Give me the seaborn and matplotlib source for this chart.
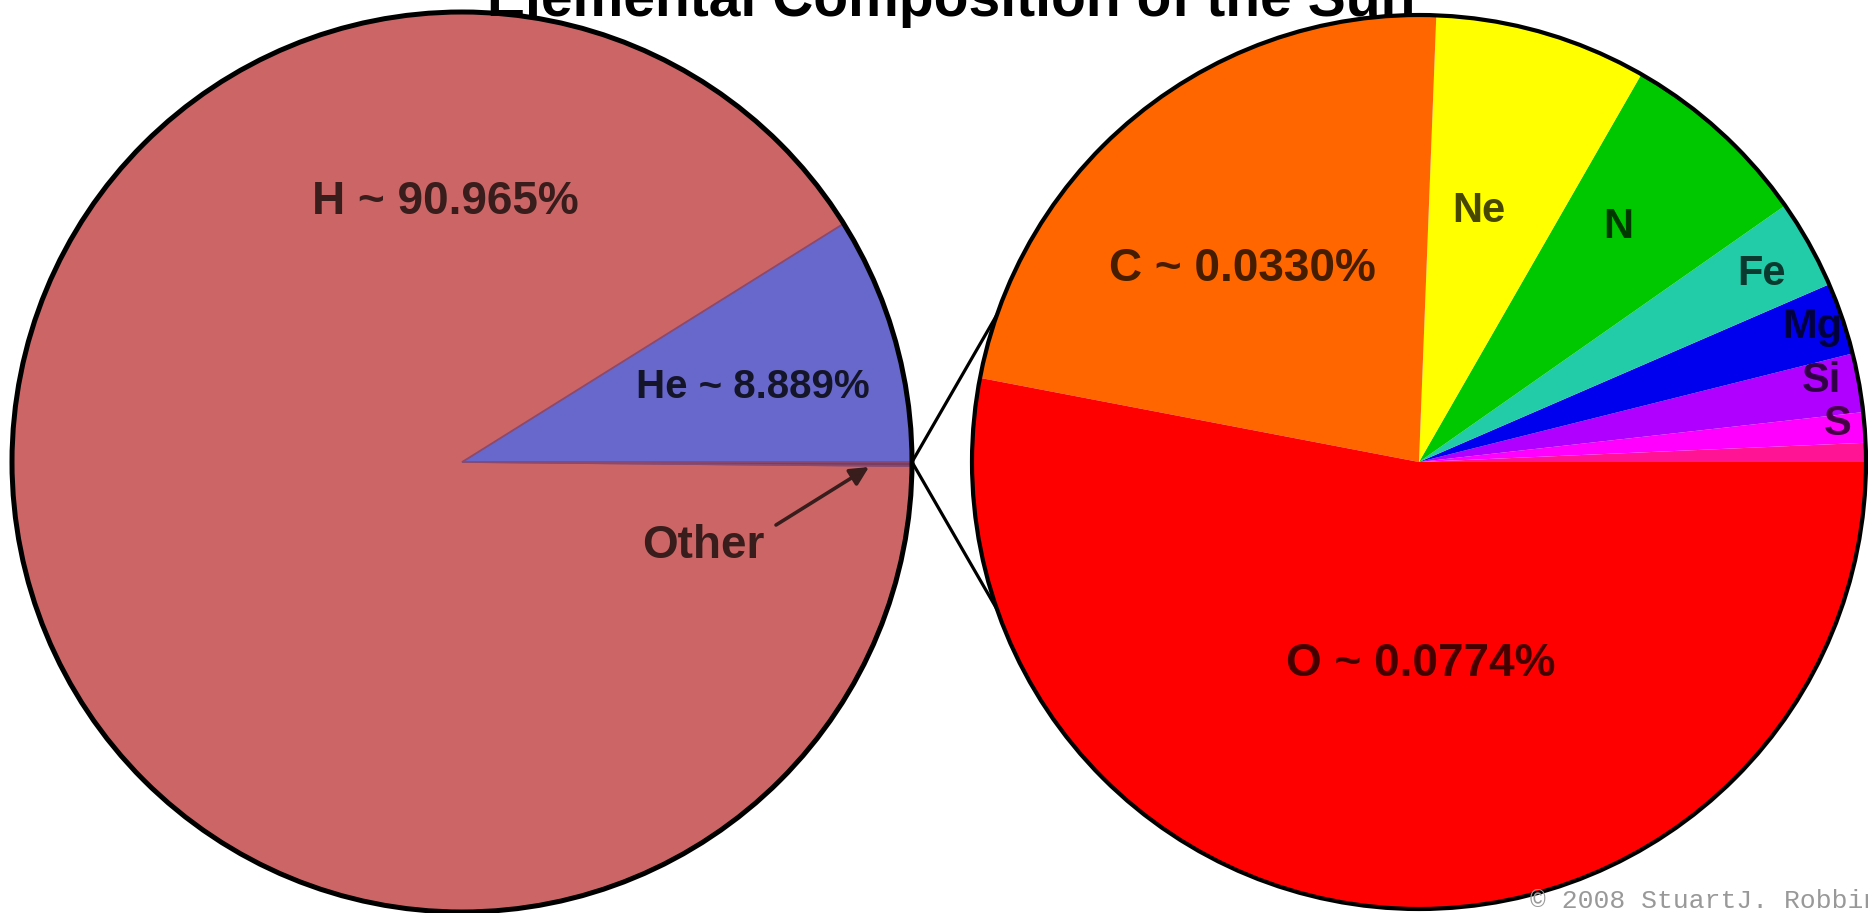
import matplotlib
matplotlib.use("Agg")
import matplotlib.pyplot as plt
from matplotlib.patches import Circle
import seaborn as sns

# Composition of the Sun, percent of all atoms
sun_elements = ["He", "H", "Other"]
sun_percent = [8.889, 90.965, 0.146]

# Breakdown of the "Other" share, percent of all atoms
trace_elements = ["rest", "S", "Si", "Mg", "Fe", "N", "Ne", "C", "O"]
trace_percent = [0.0010, 0.0016, 0.0031, 0.0038, 0.0047, 0.0102, 0.0112, 0.0330, 0.0774]

title_text = "Elemental Composition of the Sun"
credit_text = "\u00a9 2008 StuartJ. Robbins"

# ---- styling -------------------------------------------------------------
sun_colors = ["#6767cc", "#cc6666", "#7a3c60"]
trace_colors = ["#ff1493", "#ff00ff", "#b000ff", "#0000ee", "#22cca8",
                "#00c800", "#ffff00", "#ff6600", "#ff0000"]

sns.set_theme(style="white")
plt.rcParams["font.family"] = ["Liberation Sans", "DejaVu Sans"]

W, H, DPI = 1868, 913, 100
fig = plt.figure(figsize=(W / DPI, H / DPI), dpi=DPI)
ax = fig.add_axes([0, 0, 1, 1])

# pixel-style coordinates: y grows downward
left_c, left_r = (462, 462), 450
right_c, right_r = (1419, 462), 447


def darken(color, keep=0.28):
    r, g, b = matplotlib.colors.to_rgb(color)
    return (r * keep, g * keep, b * keep)


def label(x, y, text, size, color):
    # place text by the middle of its capital letters
    cap = 0.716 * size * DPI / 72
    ax.text(x, y + cap / 2, text, fontsize=size, fontweight="bold",
            color=color, ha="center", va="baseline", zorder=6)


# zoom lines from the "Other" sliver to the detail pie (hidden under it)
tip = (left_c[0] + left_r, left_c[1])
for dy in (-1, 1):
    ax.plot([tip[0], tip[0] + 150], [tip[1], tip[1] + dy * 260],
            color="black", lw=2.3, zorder=1, solid_capstyle="butt")

# main pie: counterclock=False because the y axis is flipped
ax.pie(sun_percent, colors=sun_colors, startangle=0, counterclock=False,
       center=left_c, radius=left_r,
       wedgeprops=dict(edgecolor="#8a4a70", linewidth=1.2, zorder=2))
ax.pie(trace_percent, colors=trace_colors, startangle=0, counterclock=False,
       center=right_c, radius=right_r,
       wedgeprops=dict(linewidth=0, antialiased=True, zorder=2))

ax.add_patch(Circle(left_c, left_r, fill=False, edgecolor="black", lw=3.6, zorder=4))
ax.add_patch(Circle(right_c, right_r, fill=False, edgecolor="black", lw=3.0, zorder=4))

# labels on the main pie
sun_col = dict(zip(sun_elements, sun_colors))
sun_val = dict(zip(sun_elements, sun_percent))
label(445, 198, f"H ~ {sun_val['H']:.3f}%", 33, darken(sun_col["H"]))
label(753, 384, f"He ~ {sun_val['He']:.3f}%", 29, darken(sun_col["He"], 0.2))
label(703, 542, "Other", 33, darken(sun_col["H"]))
ax.annotate("", xy=(869, 467), xytext=(776, 525),
            arrowprops=dict(arrowstyle="-|>", color=darken(sun_col["H"]),
                            lw=2.6, mutation_scale=28, shrinkA=0, shrinkB=0),
            zorder=6)

# labels on the detail pie
tr_col = dict(zip(trace_elements, trace_colors))
tr_val = dict(zip(trace_elements, trace_percent))
label(1242, 265, f"C ~ {tr_val['C']:.4f}%", 33, darken(tr_col["C"]))
label(1421, 660, f"O ~ {tr_val['O']:.4f}%", 33, darken(tr_col["O"]))
small = {"Ne": (1479, 207), "N": (1618, 223), "Fe": (1762, 270),
         "Mg": (1812, 323), "Si": (1822, 377), "S": (1838, 420)}
for name, (x, y) in small.items():
    label(x, y, name, 30, darken(tr_col[name]))

# title, partly above the top edge
ax.text(951, 16, title_text, fontsize=41, fontweight="bold", color="black",
        ha="center", va="baseline", zorder=6)

# credit line in the lower right corner
ax.text(1530, 901, credit_text, fontsize=19, color="#999999",
        family=["Liberation Mono", "DejaVu Sans Mono"],
        ha="left", va="center", zorder=6)

ax.set_xlim(0, W)
ax.set_ylim(H, 0)
ax.set_aspect("equal")
ax.axis("off")

fig.savefig("out.png", dpi=DPI, facecolor="white")
